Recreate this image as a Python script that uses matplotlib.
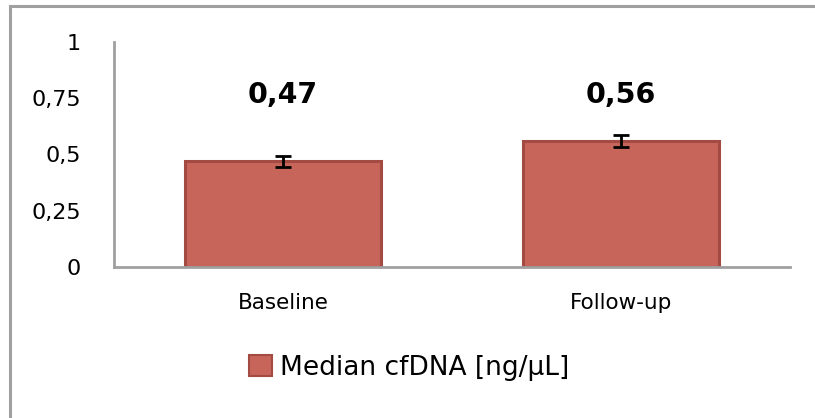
import matplotlib
matplotlib.use("Agg")
import matplotlib.pyplot as plt
from matplotlib.patches import Rectangle

categories = ["Baseline", "Follow-up"]
values = [0.47, 0.56]
errors = [0.025, 0.027]
value_labels = ["0,47", "0,56"]
yticks = [0, 0.25, 0.5, 0.75, 1]
ytick_labels = ["0", "0,25", "0,5", "0,75", "1"]
series_name = "Median cfDNA [ng/µL]"

W, H = 815, 418
fig = plt.figure(figsize=(W / 100, H / 100), dpi=100)
plt.rcParams['font.family'] = ['DejaVu Sans']

# outer chart border (extends past right/bottom edges)
fig.add_artist(Rectangle((10 / W, -0.1), 1.2, (H - 6) / H + 0.1, transform=fig.transFigure,
                         fill=False, edgecolor="#A0A0A0", lw=2.2, zorder=0))

ax = fig.add_axes([114 / W, (H - 267) / H, (790 - 114) / W, (267 - 42) / H])
x = list(range(len(categories)))
ax.bar(x, values, width=0.58, color="#C8655B", edgecolor="#A34B43", linewidth=2.2, zorder=2)
ax.errorbar(x, values, yerr=errors, fmt="none", ecolor="black", elinewidth=2,
            capsize=6, capthick=2, zorder=3)
for xi, lab in zip(x, value_labels):
    ax.text(xi, 0.765, lab, ha="center", va="center", fontsize=20.5, fontweight="bold")

ax.set_xlim(-0.5, 1.5)
ax.set_ylim(0, 1)
ax.set_yticks(yticks)
ax.set_yticklabels(ytick_labels)
ax.set_xticks(x)
ax.set_xticklabels(categories)
ax.tick_params(axis="y", length=0, pad=24, labelsize=16)
ax.tick_params(axis="x", length=0, pad=19, labelsize=15.5)
for s in ["top", "right"]:
    ax.spines[s].set_visible(False)
for s in ["left", "bottom"]:
    ax.spines[s].set_color("#A0A0A0")
    ax.spines[s].set_linewidth(2)

handle = Rectangle((0, 0), 1, 1, facecolor="#C8655B", edgecolor="#A34B43", linewidth=1.5)
fig.legend([handle], [series_name], loc="center", bbox_to_anchor=(409 / W, (H - 368) / H),
           frameon=False, fontsize=19, handlelength=0.85, handleheight=0.85,
           handletextpad=0.3)

fig.savefig("out.png", dpi=100)
